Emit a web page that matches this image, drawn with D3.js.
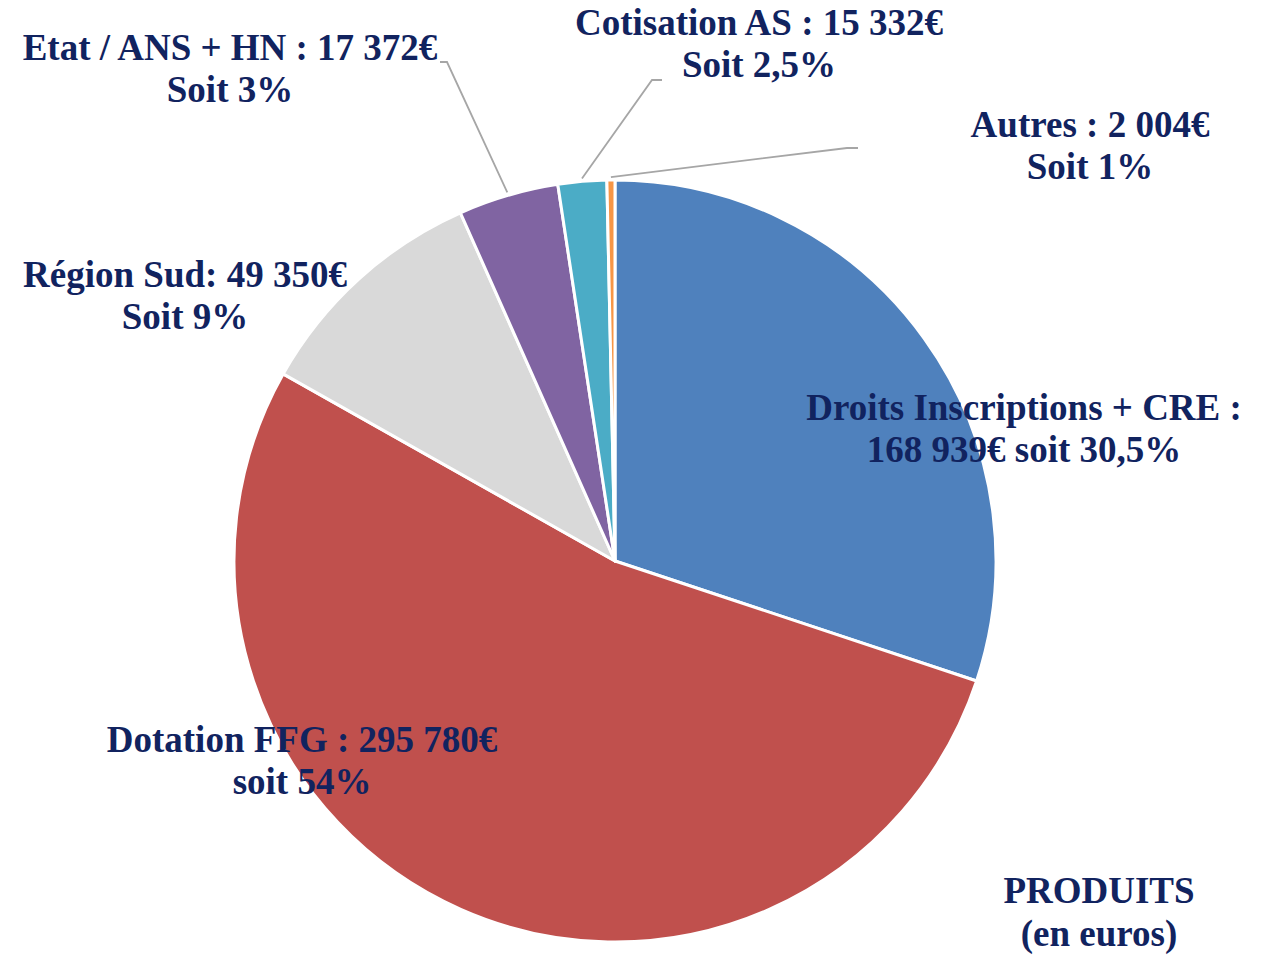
<!DOCTYPE html>
<html>
<head>
<meta charset="utf-8">
<script src="https://cdn.jsdelivr.net/npm/d3@7"></script>
<style>
  body { margin: 0; background: #fff; }
  #chart { width: 1265px; height: 957px; }
  .lbl { font-family: "Liberation Serif", "DejaVu Serif", serif; font-weight: bold; fill: #11235f; }
</style>
</head>
<body>
<div id="chart"></div>
<script>
// slices, clockwise from the top
var categories = ["Droits Inscriptions + CRE", "Dotation FFG", "Région Sud", "Etat / ANS + HN", "Cotisation AS", "Autres"];
// share of each slice as drawn in the pie (%)
var shares = [30.1, 53.07, 10.18, 4.25, 2.06, 0.34];
// label texts (two lines each)
var line1 = ["Droits Inscriptions + CRE :", "Dotation FFG : 295 780€", "Région Sud: 49 350€", "Etat / ANS + HN : 17 372€", "Cotisation AS : 15 332€", "Autres : 2 004€"];
var line2 = ["168 939€ soit 30,5%", "soit 54%", "Soit 9%", "Soit 3%", "Soit 2,5%", "Soit 1%"];
var colors = ["#4f81bd", "#c0504d", "#d9d9d9", "#8064a2", "#4bacc6", "#f79646"];

var w = 1265, h = 957;
var cx = 615, cy = 561, radius = 381;

// label anchor (centre x, first baseline) and leader elbows, null = inside label
var labelPos = [[1024, 420], [302, 752], [185, 287], [230, 60], [759, 35], [1090, 137]];
var leaders = [null, null, null, [[447, 62], [440, 62]], [[652, 80], [662, 80]], [[847, 148], [858, 148]]];

var svg = d3.select("#chart").append("svg")
    .attr("width", w)
    .attr("height", h);

var pie = d3.pie().sort(null).value(function(d) { return d; });
var arc = d3.arc().innerRadius(0).outerRadius(radius);
var outer = d3.arc().innerRadius(radius + 3).outerRadius(radius + 3);

var g = svg.append("g").attr("transform", "translate(" + cx + "," + cy + ")");
var arcs = pie(shares);

g.selectAll("path.slice")
  .data(arcs)
  .enter()
  .append("path")
    .attr("class", "slice")
    .attr("d", arc)
    .attr("fill", function(d, i) { return colors[i]; })
    .attr("stroke", "#fff")
    .attr("stroke-width", 3)
    .attr("stroke-linejoin", "round");

// leader lines
arcs.forEach(function(d, i) {
  if (!leaders[i]) return;
  var c = outer.centroid(d);
  var pts = [[c[0] + cx, c[1] + cy]].concat(leaders[i]);
  svg.append("path")
    .attr("d", d3.line()(pts))
    .attr("fill", "none")
    .attr("stroke", "#a6a6a6")
    .attr("stroke-width", 1.8);
});

// labels
categories.forEach(function(c, i) {
  var t = svg.append("text")
    .attr("class", "lbl")
    .attr("text-anchor", "middle")
    .style("font-size", "37px");
  t.append("tspan").attr("x", labelPos[i][0]).attr("y", labelPos[i][1]).text(line1[i]);
  t.append("tspan").attr("x", labelPos[i][0]).attr("y", labelPos[i][1] + 42).text(line2[i]);
});

// title in the bottom right corner
var title = svg.append("text")
  .attr("class", "lbl")
  .attr("text-anchor", "middle")
  .style("font-size", "37px");
title.append("tspan").attr("x", 1099).attr("y", 903).text("PRODUITS");
title.append("tspan").attr("x", 1099).attr("y", 946).text("(en euros)");
</script>
</body>
</html>
